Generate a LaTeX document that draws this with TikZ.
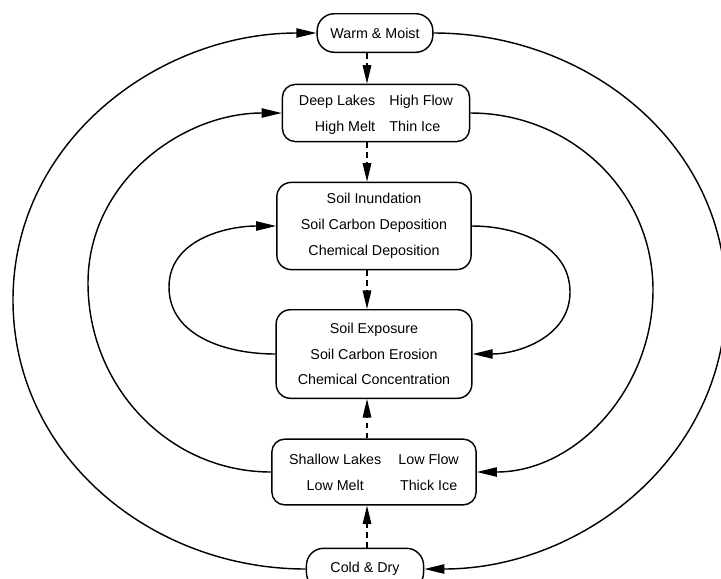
\documentclass[tikz,border=0pt]{standalone}
\usepackage{fontspec}
\setmainfont{Liberation Sans}
\usetikzlibrary{arrows.meta}

\begin{document}
\begin{tikzpicture}
  [x=0.7pt,y=-0.7pt,line width=1pt,
   every node/.style={draw,rounded corners=9pt,align=center,inner sep=0pt,
     font=\fontsize{10}{18}\selectfont},
   flow/.style={-{Triangle[length=14pt,width=6.5pt]}},
   link/.style={-{Triangle[length=13pt,width=6pt]},dash pattern=on 4pt off 3pt}]
  \useasboundingbox (0,0) rectangle (721,578);

  \node [minimum width=81pt,minimum height=27pt,rounded corners=12pt] (warm) at (375,33) {Warm \& Moist};
  \node [minimum width=131pt,minimum height=40pt] (deep) at (376,113)
    {\begin{tabular}{@{}r@{\hspace{10pt}}l@{}}Deep Lakes & High Flow\\ High Melt & Thin Ice\end{tabular}};
  \node [minimum width=136pt,minimum height=61pt,rounded corners=10pt] (inund) at (374,226)
    {Soil Inundation\\ Soil Carbon Deposition\\ Chemical Deposition};
  \node [minimum width=137pt,minimum height=62pt,rounded corners=10pt] (expo) at (374,354)
    {Soil Exposure\\ Soil Carbon Erosion\\ Chemical Concentration};
  \node [minimum width=143pt,minimum height=46pt] (shallow) at (374,472)
    {\begin{tabular}{@{}c@{\hspace{12pt}}c@{}}Shallow Lakes & Low Flow\\ Low Melt & Thick Ice\end{tabular}};
  \node [minimum width=82pt,minimum height=29pt,rounded corners=12pt] (cold) at (365,569) {Cold \& Dry};

  % turning points of the loops
  \coordinate (oL) at (13,300);
  \coordinate (oR) at (726,298);
  \coordinate (mL) at (88,283);
  \coordinate (mR) at (653,290);
  \coordinate (iL) at (169,287);
  \coordinate (iR) at (570,292);
  \coordinate (axis) at (367,0);

  \draw [flow] (cold.west) to[out=180,in=-90] (oL) to[out=90,in=180] (warm.west);
  \draw [flow] (warm.east) to[out=0,in=90] (oR) to[out=-90,in=0] (cold.east);
  \draw [flow] (shallow.west) to[out=180,in=-90] (mL) to[out=90,in=180] (deep.west);
  \draw [flow] (deep.east) to[out=0,in=90] (mR) to[out=-90,in=0] (shallow.east);
  \draw [flow] (expo.west) to[out=180,in=-90] (iL) to[out=90,in=180] (inund.west);
  \draw [flow] (inund.east) to[out=0,in=90] (iR) to[out=-90,in=0] (expo.east);

  \foreach \from/\to in {warm.south/deep.north,deep.south/inund.north,inund.south/expo.north,
      shallow.north/expo.south,cold.north/shallow.south}
    \draw [link] (\from -| axis) -- (\to -| axis);

\end{tikzpicture}
\end{document}
